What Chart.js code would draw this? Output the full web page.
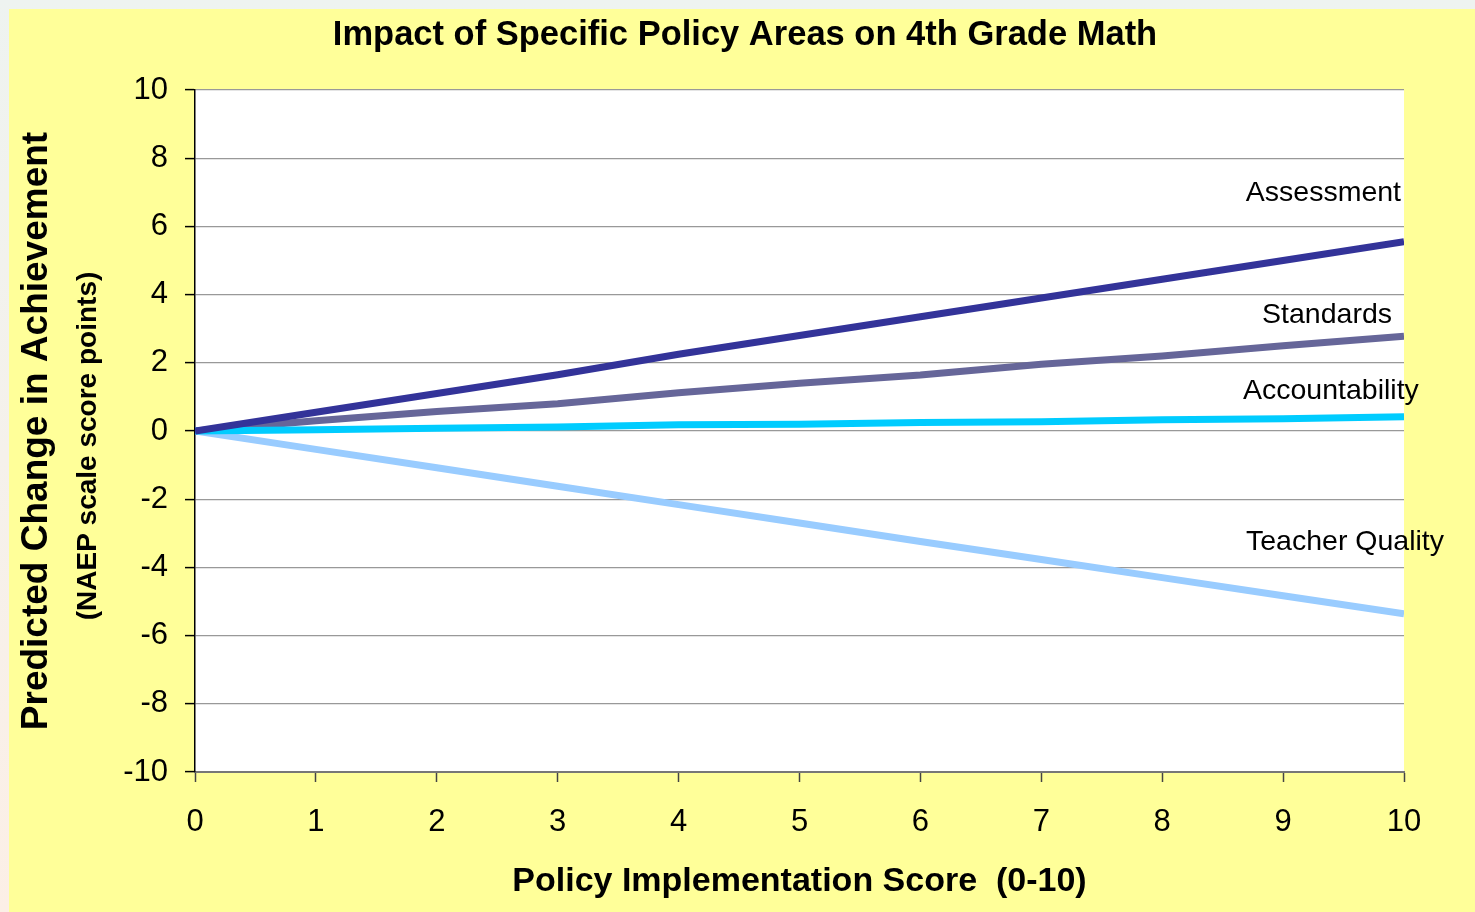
<!DOCTYPE html>
<html>
<head>
<meta charset="utf-8">
<script src="https://cdn.jsdelivr.net/npm/chart.js@4"></script>
<style>
  html, body { margin: 0; padding: 0; width: 1475px; height: 912px; overflow: hidden; }
  body { background: linear-gradient(to bottom, #eef3f0, #fcefe6); }
  #box { position: absolute; left: 9px; top: 9px; width: 1466px; height: 903px; background: #ffff99; }
</style>
</head>
<body>
<div id="box"><canvas id="chart" width="1466" height="903"></canvas></div>
<script>
// policy implementation score 0..10
const scores = [0, 1, 2, 3, 4, 5, 6, 7, 8, 9, 10];
const assessment = [0, 0.55, 1.1, 1.65, 2.25, 2.8, 3.35, 3.9, 4.45, 5.0, 5.55];
const standards = [0, 0.3, 0.57, 0.8, 1.12, 1.4, 1.64, 1.96, 2.2, 2.5, 2.78];
const accountability = [0, 0.04, 0.08, 0.12, 0.18, 0.2, 0.25, 0.27, 0.33, 0.36, 0.42];
const teacherQuality = [0, -0.54, -1.08, -1.62, -2.16, -2.7, -3.24, -3.77, -4.3, -4.83, -5.36];

const FONT = '"Liberation Sans", Arial, sans-serif';

function pts(vals) {
    return scores.map((x, i) => ({ x: x, y: vals[i] }));
}

// series name labels placed near the right end of each line
const lineLabels = [
    { text: 'Assessment', y: 6.98, dx: -3, align: 'right' },
    { text: 'Standards', y: 3.4, dx: -12, align: 'right' },
    { text: 'Accountability', y: 1.18, dx: -161, align: 'left' },
    { text: 'Teacher Quality', y: -3.25, dx: -158, align: 'left' }
];

const decorPlugin = {
    id: 'decor',
    beforeDraw(chart) {
        const { ctx, chartArea: a } = chart;
        ctx.save();
        ctx.fillStyle = '#ffffff';
        ctx.fillRect(a.left, a.top, a.right - a.left, a.bottom - a.top);
        ctx.restore();
    },
    afterDraw(chart) {
        const { ctx, chartArea: a, scales } = chart;
        ctx.save();
        ctx.fillStyle = '#000';
        ctx.textBaseline = 'middle';

        // main title, centred on the whole yellow panel
        ctx.font = 'bold 34.5px ' + FONT;
        ctx.textAlign = 'center';
        ctx.fillText('Impact of Specific Policy Areas on 4th Grade Math', chart.width / 2 + 3, 26);

        // second line of the y axis title
        ctx.save();
        ctx.translate(79, (a.top + a.bottom) / 2 + 15);
        ctx.rotate(-Math.PI / 2);
        ctx.font = 'bold 28px ' + FONT;
        ctx.fillText('(NAEP scale score points)', 0, 0);
        ctx.restore();

        ctx.font = '28.5px ' + FONT;
        const xEnd = scales.x.getPixelForValue(10);
        lineLabels.forEach(l => {
            ctx.textAlign = l.align;
            ctx.fillText(l.text, xEnd + l.dx, scales.y.getPixelForValue(l.y));
        });
        ctx.restore();
    }
};

new Chart(document.getElementById('chart'), {
    type: 'line',
    data: {
        datasets: [
            { label: 'Assessment', data: pts(assessment), borderColor: '#333399', order: 1 },
            { label: 'Standards', data: pts(standards), borderColor: '#666699', order: 4 },
            { label: 'Accountability', data: pts(accountability), borderColor: '#00ccff', order: 2 },
            { label: 'Teacher Quality', data: pts(teacherQuality), borderColor: '#99ccff', order: 3 }
        ]
    },
    options: {
        responsive: false,
        animation: false,
        layout: { padding: { left: 0, right: 71, top: 81, bottom: 0 } },
        elements: {
            line: { borderWidth: 7, tension: 0, fill: false },
            point: { radius: 0, hoverRadius: 0 }
        },
        plugins: {
            legend: { display: false },
            title: { display: false },
            tooltip: { enabled: false }
        },
        scales: {
            x: {
                type: 'linear',
                min: 0,
                max: 10,
                afterFit(scale) { scale.height = 140; },
                ticks: { stepSize: 1, color: '#000', padding: 22, font: { family: FONT, size: 31 } },
                grid: { drawOnChartArea: false, drawTicks: true, tickLength: 10, tickColor: '#444', tickWidth: 1.5 },
                border: { color: '#777', width: 2 },
                title: {
                    display: true,
                    text: 'Policy Implementation Score  (0-10)',
                    color: '#000',
                    font: { family: FONT, size: 34, weight: 'bold' },
                    padding: { top: 0, bottom: 10 }
                }
            },
            y: {
                min: -10,
                max: 10,
                afterFit(scale) { scale.width = 186; },
                ticks: { stepSize: 2, color: '#000', padding: 17, font: { family: FONT, size: 31 } },
                grid: { color: '#999', lineWidth: 1.2, drawTicks: true, tickLength: 10, tickColor: '#000', tickWidth: 1.5 },
                border: { color: '#000', width: 1.5 },
                title: {
                    display: true,
                    text: 'Predicted Change in Achievement',
                    color: '#000',
                    font: { family: FONT, size: 37, weight: 'bold' },
                    padding: { top: 6, bottom: 0 }
                }
            }
        }
    },
    plugins: [decorPlugin]
});
</script>
</body>
</html>
